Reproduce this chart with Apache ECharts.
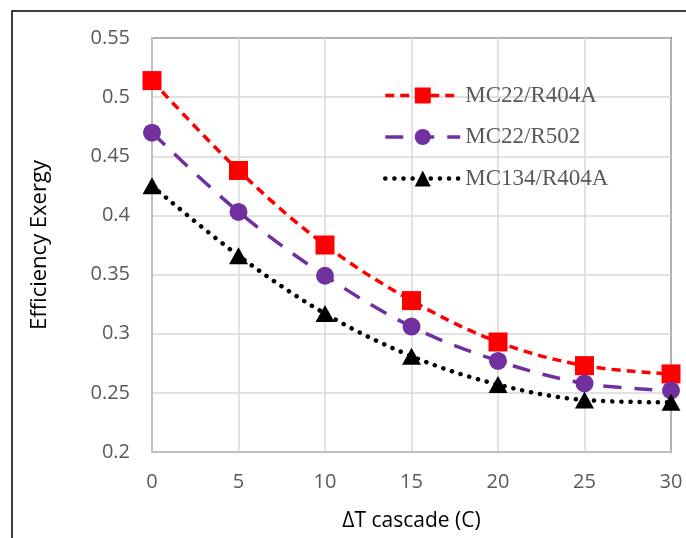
<!DOCTYPE html>
<html><head><meta charset="utf-8">
<script src="https://cdn.jsdelivr.net/npm/echarts@6/dist/echarts.min.js"></script>
<style>html,body{margin:0;padding:0;background:#fff}#c{width:686px;height:538px}</style>
</head><body><div id="c"></div>
<script>
const xValues = [0, 5, 10, 15, 20, 25, 30];
const seriesNames = ['MC22/R404A', 'MC22/R502', 'MC134/R404A'];
const mc22r404a = [0.514, 0.438, 0.375, 0.328, 0.293, 0.273, 0.266];
const mc22r502 = [0.470, 0.403, 0.349, 0.306, 0.277, 0.258, 0.252];
const mc134r404a = [0.425, 0.366, 0.317, 0.281, 0.257, 0.244, 0.242];
const xAxisTitle = 'ΔT cascade (C)';
const yAxisTitle = 'Efficiency Exergy';

const pair = arr => xValues.map((x, i) => [x, arr[i]]);
const chart = echarts.init(document.getElementById('c'), null, {renderer: 'canvas'});
const labelFont = {color: '#595959', fontFamily: 'Open Sans', fontSize: 20};
chart.setOption({
  animation: false,
  backgroundColor: '#fff',
  graphic: [{type: 'rect', shape: {x: 12, y: 11, width: 720, height: 600}, style: {fill: 'none', stroke: '#000', lineWidth: 1.5}, z: -10}],
  grid: {left: 152, right: 15, top: 38, bottom: 86, show: true, borderColor: '#000', borderWidth: 1.5, backgroundColor: 'transparent'},
  legend: {
    orient: 'vertical', left: 378, top: 79, itemWidth: 75, itemHeight: 20, itemGap: 18.5,
    lineStyle: {width: 'inherit'},
    textStyle: {color: '#595959', fontFamily: 'Liberation Serif', fontSize: 23},
    data: seriesNames
  },
  xAxis: {
    type: 'value', min: 0, max: 30, interval: 5,
    name: xAxisTitle, nameLocation: 'middle', nameGap: 59,
    nameTextStyle: {color: '#000', fontFamily: 'Open Sans', fontSize: 21},
    axisLine: {show: true, lineStyle: {color: '#bfbfbf', width: 2}},
    axisTick: {show: false},
    axisLabel: Object.assign({margin: 20}, labelFont),
    splitLine: {show: true, lineStyle: {color: '#d9d9d9', width: 1.5}}
  },
  yAxis: {
    type: 'value', min: 0.2, max: 0.55, interval: 0.05,
    name: yAxisTitle, nameLocation: 'middle', nameGap: 101, nameRotate: 90,
    nameTextStyle: {color: '#000', fontFamily: 'Open Sans', fontSize: 22},
    axisLine: {show: true, lineStyle: {color: '#bfbfbf', width: 2}},
    axisTick: {show: false},
    axisLabel: Object.assign({margin: 22}, labelFont),
    splitLine: {show: true, lineStyle: {color: '#d9d9d9', width: 1.5}}
  },
  series: [
    {name: seriesNames[0], type: 'line', data: pair(mc22r404a), smooth: 0.35,
     symbol: 'rect', symbolSize: 19, itemStyle: {color: '#ff0000'},
     lineStyle: {color: '#ff0000', width: 3.5, type: [9, 6]}},
    {name: seriesNames[1], type: 'line', data: pair(mc22r502), smooth: 0.35,
     symbol: 'circle', symbolSize: 18, itemStyle: {color: '#7030a0'},
     lineStyle: {color: '#7030a0', width: 3.5, type: [18, 13]}},
    {name: seriesNames[2], type: 'line', data: pair(mc134r404a), smooth: 0.35,
     symbol: 'triangle', symbolSize: [19, 17], itemStyle: {color: '#000'},
     lineStyle: {color: '#000', width: 4.5, type: [0.1, 9], cap: 'round'}}
  ]
});
</script></body></html>
